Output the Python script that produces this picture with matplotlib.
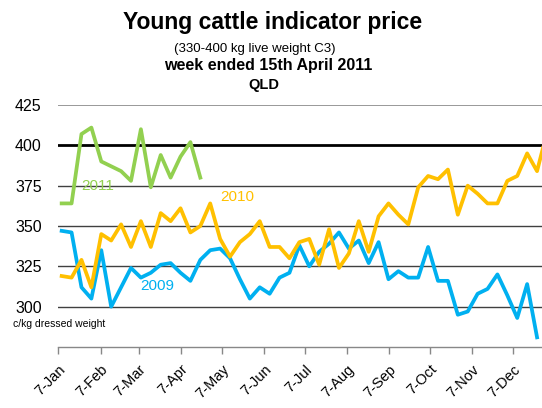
import matplotlib
matplotlib.use('Agg')
import matplotlib.pyplot as plt
import numpy as np

plt.rcParams['font.family'] = ['Liberation Sans', 'DejaVu Sans']

# weekly indicator prices, c/kg dressed weight
Y2009 = [347, 346, 312, 305, 335, 300, 312, 324, 318, 321, 326, 327, 321, 316, 329,
         335, 336, 330, 317, 305, 312, 308, 318, 321, 338, 325, 334, 339, 346, 336,
         341, 327, 340, 317, 322, 318, 318, 337, 316, 316, 295, 297, 308, 311, 320,
         307, 293, 314, 281]
Y2010 = [319, 318, 329, 312, 345, 341, 351, 337, 353, 337, 358, 353, 361, 346, 350,
         364, 342, 331, 340, 345, 353, 337, 337, 330, 340, 342, 326, 348, 324, 333,
         353, 334, 356, 364, 357, 351, 374, 381, 379, 385, 357, 375, 370, 364, 364,
         378, 381, 395, 384, 408]
Y2011 = [364, 364, 407, 411, 390, 387, 384, 378, 410, 374, 394, 380, 393, 402, 380]

MonthLabels = ['7-Jan', '7-Feb', '7-Mar', '7-Apr', '7-May', '7-Jun',
               '7-Jul', '7-Aug', '7-Sep', '7-Oct', '7-Nov', '7-Dec']
MonthDays = [0, 31, 59, 90, 120, 151, 181, 212, 243, 273, 304, 334]  # days after 7-Jan
YTicks = [300, 325, 350, 375, 400, 425]

C2009, C2010, C2011 = '#00B0F0', '#FFC000', '#92D050'

W, H = 542, 408
fig = plt.figure(figsize=(W / 100, H / 100), dpi=100)
ax = fig.add_axes([58.3 / W, 1 - 347 / H, (W - 58.3) / W, (347 - 105) / H])

ax.plot(np.arange(len(Y2009)), Y2009, color=C2009, lw=2.7, solid_joinstyle='round')
ax.plot(np.arange(len(Y2010)), Y2010, color=C2010, lw=2.7, solid_joinstyle='round')
ax.plot(np.arange(len(Y2011)), Y2011, color=C2011, lw=2.7, solid_joinstyle='round')

ax.text(3.6, 375, '2011', color=C2011, fontsize=11, ha='center', va='center')
ax.text(17.7, 368, '2010', color=C2010, fontsize=11, ha='center', va='center')
ax.text(9.7, 313, '2009', color=C2009, fontsize=11, ha='center', va='center')

ax.set_ylim(275, 425)
ax.set_xlim(-0.34, 48.5)

ax.set_yticks(YTicks)
ax.set_yticklabels([str(v) for v in YTicks], fontsize=11.5)
ax.tick_params(axis='y', length=0, pad=12)

# month ticks sit on a date scale, roughly 7.27 days per plotted point
TickPos = [-0.34 + d / 7.27 for d in MonthDays]
ax.set_xticks(TickPos)
ax.set_xticklabels(MonthLabels, fontsize=10.5, rotation=45, ha='right', va='top',
                   rotation_mode='anchor')
ax.tick_params(axis='x', length=5, color='#888888', width=1, pad=6)

for y in YTicks:
    if y == 400:
        ax.axhline(y, color='black', lw=2, zorder=0)
    elif y == 425:
        ax.axhline(y, color='#888888', lw=1.2, zorder=0)
    else:
        ax.axhline(y, color='#404040', lw=1, zorder=0)

for s in ['left', 'right', 'top']:
    ax.spines[s].set_visible(False)
ax.spines['bottom'].set_color('#888888')
ax.spines['bottom'].set_linewidth(1)

fig.text(273 / W, 1 - 28.5 / H, 'Young cattle indicator price', fontsize=16.5,
         fontweight='bold', ha='center', va='baseline')
fig.text(255 / W, 1 - 52 / H, '(330-400 kg live weight C3)', fontsize=9.5,
         ha='center', va='baseline')
fig.text(268 / W, 1 - 70 / H, 'week ended 15th April 2011', fontsize=11.5,
         fontweight='bold', ha='center', va='baseline')
fig.text(264 / W, 1 - 89 / H, 'QLD', fontsize=10.5, fontweight='bold',
         ha='center', va='baseline')
fig.text(13 / W, 1 - 327 / H, 'c/kg dressed weight', fontsize=7.5,
         ha='left', va='baseline')

fig.savefig('out.png', dpi=100)
